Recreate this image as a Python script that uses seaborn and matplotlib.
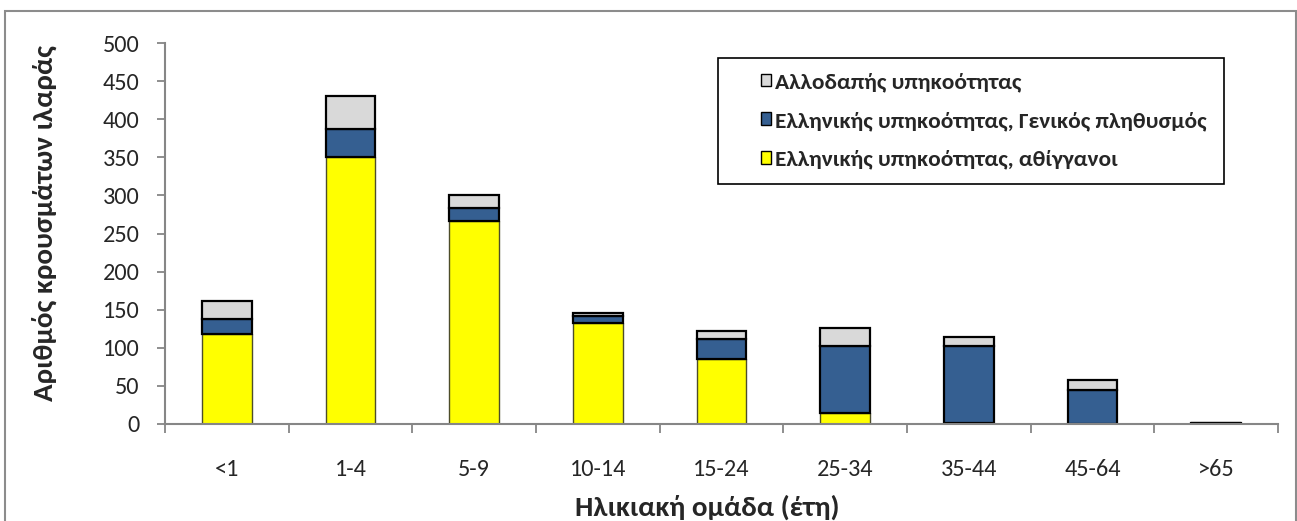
import matplotlib
matplotlib.use("Agg")
import matplotlib.pyplot as plt
import matplotlib.patches as mpatches
import seaborn as sns
import pandas as pd

# age groups and case counts
age_groups = ["<1", "1-4", "5-9", "10-14", "15-24", "25-34", "35-44", "45-64", ">65"]
roma = [118, 351, 266, 133, 85, 15, 1, 0, 0]
greek_general = [20, 36, 17, 9, 26, 88, 102, 44, 1]
foreign = [24, 43, 17, 4, 11, 23, 11, 14, 0]

series_names = ["Αλλοδαπής υπηκοότητας",
                "Ελληνικής υπηκοότητας, Γενικός πληθυσμός",
                "Ελληνικής υπηκοότητας, αθίγγανοι"]

sns.set_style("white")
plt.rcParams['font.family'] = ['Carlito', 'Lato', 'DejaVu Sans']

df = pd.DataFrame({"age": age_groups, "roma": roma,
                   "greek": greek_general, "foreign": foreign})
df["base2"] = df["roma"]
df["base3"] = df["roma"] + df["greek"]

W, H = 1297, 521
fig = plt.figure(figsize=(W / 100, H / 100), dpi=100)
ax = fig.add_axes([165 / W, (H - 424) / H, 1113 / W, 381 / H])

sns.barplot(data=df, x="age", y="roma", color="#ffff00", saturation=1,
            edgecolor="#4d4d2a", linewidth=1.0, width=0.4, ax=ax)
sns.barplot(data=df, x="age", y="greek", bottom=df["base2"], color="#355f91",
            saturation=1, edgecolor="black", linewidth=1.6, width=0.4, ax=ax)
sns.barplot(data=df, x="age", y="foreign", bottom=df["base3"], color="#d9d9d9",
            saturation=1, edgecolor="black", linewidth=1.6, width=0.4, ax=ax)

ax.set_ylim(0, 500)
ax.set_xlim(-0.5, len(age_groups) - 0.5)
ax.set_yticks(range(0, 501, 50))
ax.set_xticks([i - 0.5 for i in range(len(age_groups) + 1)])
ax.set_xticklabels([])
ax.set_xticks(range(len(age_groups)), minor=True)
ax.set_xticklabels(age_groups, minor=True)
ax.tick_params(axis="x", which="minor", length=0, pad=25, labelsize=17.5)
ax.tick_params(axis="x", which="major", length=6.5, width=1.3, color="#868686", direction="out")
ax.tick_params(axis="y", length=5.5, width=1.3, color="#868686", direction="out",
               labelsize=17.5, pad=13)
ax.tick_params(bottom=True, left=True)

for side in ["top", "right"]:
    ax.spines[side].set_visible(False)
for side in ["left", "bottom"]:
    ax.spines[side].set_color("#868686")
    ax.spines[side].set_linewidth(1.5)

ax.set_xlabel("Ηλικιακή ομάδα (έτη)", fontsize=21, fontweight="bold", va="center")
ax.xaxis.set_label_coords((707 - 165) / 1113, (424 - 507) / 381)
ax.set_ylabel("Αριθμός κρουσμάτων ιλαράς", fontsize=21, fontweight="bold", va="center")
ax.yaxis.set_label_coords((44 - 165) / 1113, (424 - 223) / 381)

# legend frame drawn separately, legend entries placed inside it
fig.patches.append(mpatches.Rectangle((718 / W, (H - 184) / H), 506 / W, 126 / H,
                                      transform=fig.transFigure, fill=False,
                                      edgecolor="black", linewidth=1.2, zorder=5))
handles = [mpatches.Patch(facecolor="#d9d9d9", edgecolor="black", linewidth=1.0),
           mpatches.Patch(facecolor="#355f91", edgecolor="black", linewidth=1.0),
           mpatches.Patch(facecolor="#ffff00", edgecolor="black", linewidth=1.0)]
leg = fig.legend(handles, series_names, loc="center left",
                 bbox_to_anchor=(761 / W, (H - 121) / H),
                 frameon=False, borderpad=0, labelspacing=0.8,
                 handlelength=0.45, handleheight=0.45, handletextpad=0.15,
                 prop={"weight": "bold", "size": 16.8}, borderaxespad=0)

# chart area border
fig.patches.append(mpatches.Rectangle((5 / W, -0.05), 1291 / W, 1.05 - 11 / H,
                                      transform=fig.transFigure, fill=False,
                                      edgecolor="#8c8c8c", linewidth=1.5))

fig.savefig("out.png", dpi=100)
